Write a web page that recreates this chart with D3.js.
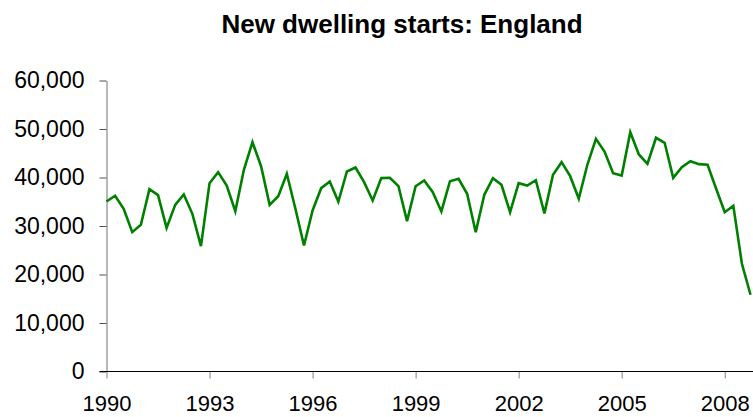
<!DOCTYPE html>
<html>
<head>
<meta charset="utf-8">
<script src="https://cdn.jsdelivr.net/npm/d3@7"></script>
<style>
  html, body { margin: 0; padding: 0; background: #fff; }
  svg { display: block; font-family: "Liberation Sans", Arial, sans-serif; }
</style>
</head>
<body>
<svg id="chart" width="753" height="417"></svg>
<script>
// Quarterly new dwelling starts in England, 1990 Q1 – 2008 Q4
const years = d3.range(1990, 2009);
const quarterNames = ["Q1", "Q2", "Q3", "Q4"];
const periods = years.flatMap(y => quarterNames.map(q => `${y} ${q}`));

const starts = [
  35050, 36230, 33550, 28730, 30240, 37600, 36360, 29620, 34370, 36500,
  32510, 25840, 38830, 41100, 38350, 33050, 41590, 47280, 42330, 34370,
  36150, 40770, 33550, 25980, 33200, 37800, 39180, 35050, 41240, 42060,
  39040, 35260, 39870, 39940, 38210, 31000, 38210, 39380, 36970, 33000,
  39240, 39730, 36640, 28730, 36430, 39870, 38500, 32850, 38830, 38350,
  39450, 32600, 40560, 43160, 40270, 35610, 42620, 47980, 45360, 40890,
  40410, 49340, 44750, 42830, 48190, 47160, 39940, 42130, 43360, 42750,
  42620, 37670, 32850, 34170, 22210, 15820
];

const yTicks = [0, 10000, 20000, 30000, 40000, 50000, 60000];
const xTickLabels = ["1990", "1993", "1996", "1999", "2002", "2005", "2008"];

const svg = d3.select("#chart");
const W = 753;
const plotLeft = 106.5, plotRight = 750.5, plotTop = 80.5, plotBottom = 371.5;

const x = d3.scalePoint().domain(periods).range([plotLeft, plotRight]);
const y = d3.scaleLinear().domain([0, 60000]).range([plotBottom, plotTop]);

// Title
svg.append("text")
  .attr("x", 402).attr("y", 33)
  .attr("text-anchor", "middle")
  .attr("font-weight", "bold")
  .attr("font-size", 26)
  .attr("fill", "#000")
  .text("New dwelling starts: England");

// Y axis
const yAxis = svg.append("g")
  .attr("transform", `translate(${plotLeft},0)`)
  .call(d3.axisLeft(y).tickValues(yTicks).tickSize(7).tickPadding(15)
    .tickSizeOuter(0).tickFormat(d3.format(",")));
yAxis.select(".domain").attr("stroke", "#707070");
yAxis.selectAll(".tick line").attr("stroke", "#505050");
yAxis.selectAll(".tick text")
  .attr("font-size", 23).attr("fill", "#000")
  .attr("font-family", "Liberation Sans, Arial, sans-serif");

// X axis
const xAxis = svg.append("g")
  .attr("transform", `translate(0,${plotBottom})`)
  .call(d3.axisBottom(x)
    .tickValues(xTickLabels.map(t => `${t} Q1`))
    .tickSize(7).tickPadding(17).tickSizeOuter(0)
    .tickFormat(d => d.slice(0, 4)));
xAxis.select(".domain").remove();
xAxis.append("line")
  .attr("x1", plotLeft - 7).attr("x2", W)
  .attr("y1", 0).attr("y2", 0)
  .attr("stroke", "#000");
xAxis.selectAll(".tick line").attr("stroke", "#808080");
xAxis.selectAll(".tick text")
  .attr("font-size", 22).attr("fill", "#000")
  .attr("font-family", "Liberation Sans, Arial, sans-serif");

// Series line
const line = d3.line()
  .x((d, i) => x(periods[i]))
  .y(d => y(d));

svg.append("path")
  .datum(starts)
  .attr("fill", "none")
  .attr("stroke", "#008000")
  .attr("stroke-width", 2.6)
  .attr("stroke-linejoin", "miter")
  .attr("d", line);
</script>
</body>
</html>
